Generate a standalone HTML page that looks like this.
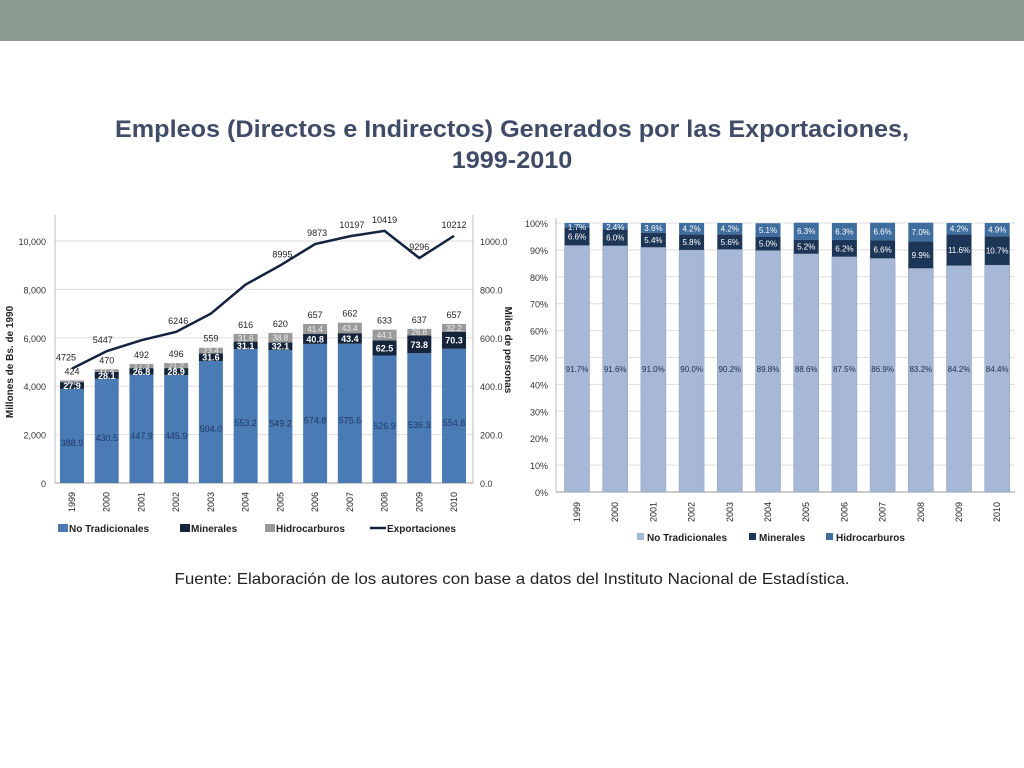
<!DOCTYPE html>
<html><head><meta charset="utf-8">
<style>
body{margin:0;width:1024px;height:768px;background:#fff;font-family:"Liberation Sans",sans-serif;overflow:hidden;position:relative}
#band{position:absolute;left:0;top:0;width:1024px;height:41px;background:#8d9c92}
#title{position:absolute;left:0;width:1024px;top:114px;text-align:center;font-size:24px;font-weight:bold;color:#404b68;line-height:31px;transform:scaleX(1.05)}
#source{position:absolute;left:0;width:1024px;top:571px;text-align:center;font-size:16px;color:#222;transform:scaleX(1.06)}
svg{position:absolute;left:0;top:0}
</style></head><body>
<div id="band"></div>
<div id="title">Empleos (Directos e Indirectos) Generados por las Exportaciones,<br>1999-2010</div>
<svg id="left" width="520" height="560"></svg>
<svg id="right" width="1024" height="560" style="left:0"></svg>
<div id="source">Fuente: Elaboración de los autores con base a datos del Instituto Nacional de Estadística.</div>
<script>
const years=["1999","2000","2001","2002","2003","2004","2005","2006","2007","2008","2009","2010"];
const noTrad=[388.9,430.5,447.9,445.9,504.0,553.2,549.2,574.8,575.6,526.9,536.3,554.8];
const minerales=[27.9,28.1,26.8,28.9,31.6,31.1,32.1,40.8,43.4,62.5,73.8,70.3];
const hidro=[7.2,11.4,17.3,21.2,23.4,31.6,38.8,41.4,43.4,44.1,26.8,32.2];
const totals=[424,470,492,496,559,616,620,657,662,633,637,657];
const export_=[4725,5447,5900,6246,7000,8200,8995,9873,10197,10419,9296,10212];
const exportLabels=["4725","5447","","6246","","","8995","9873","10197","10419","9296","10212"];
const leftTicks=[0,2000,4000,6000,8000,10000];
const leftTickLabels=["0","2,000","4,000","6,000","8,000","10,000"];
const rightTicks=[0,200,400,600,800,1000];
const pctNo=[91.7,91.6,91.0,90.0,90.2,89.8,88.6,87.5,86.9,83.2,84.2,84.4];
const pctMin=[6.6,6.0,5.4,5.8,5.6,5.0,5.2,6.2,6.6,9.9,11.6,10.7];
const pctHid=[1.7,2.4,3.6,4.2,4.2,5.1,6.3,6.3,6.6,7.0,4.2,4.9];
const pctTicks=[0,10,20,30,40,50,60,70,80,90,100];

const NS="http://www.w3.org/2000/svg";
function mk(p,t,a,txt){const e=document.createElementNS(NS,t);for(const k in a)e.setAttribute(k,a[k]);if(txt!==undefined)e.textContent=txt;p.appendChild(e);return e;}

// LEFT
const L=document.getElementById('left');
const ly=v=>483-v*0.0242;
const lyR=v=>483-v*0.242;
const lx=i=>72+i*34.73;
leftTicks.forEach((t,i)=>{
 let g=mk(L,'line',{x1:55,x2:473,y1:ly(t),y2:ly(t),stroke:i==0?'#999':'#ddd','stroke-width':1});
 
 let tx=mk(L,'text',{x:46,y:ly(t)+4,'text-anchor':'end','font-size':9,fill:'#333'},leftTickLabels[i]);
 
});
rightTicks.forEach(t=>{
 let tx=mk(L,'text',{x:480,y:lyR(t)+4,'font-size':9,fill:'#333'},t.toFixed(1));
 
});
mk(L,'line',{x1:55,x2:55,y1:215,y2:483,stroke:'#bbb'});
mk(L,'line',{x1:473,x2:473,y1:215,y2:483,stroke:'#bbb'});
let yt=mk(L,'text',{transform:'translate(13,362) rotate(-90)','text-anchor':'middle','font-size':10,'font-weight':'bold',fill:'#222'},'Millones de Bs. de 1990');

let yt2=mk(L,'text',{transform:'translate(505,350) rotate(90)','text-anchor':'middle','font-size':10,'font-weight':'bold',fill:'#222'},'Miles de personas');

years.forEach((y,i)=>{
 const x=lx(i),w=24;
 const y0=lyR(noTrad[i]),y1=lyR(noTrad[i]+minerales[i]),y2=lyR(noTrad[i]+minerales[i]+hidro[i]);
 let b=mk(L,'rect',{x:x-w/2,y:y0,width:w,height:483-y0,fill:'#4a7bb5'});
 
 b=mk(L,'rect',{x:x-w/2,y:y1,width:w,height:y0-y1,fill:'#14243a'});
 
 b=mk(L,'rect',{x:x-w/2,y:y2,width:w,height:y1-y2,fill:'#9a9a9a'});
 
 mk(L,'text',{x:x,y:(483+y0)/2+10,'text-anchor':'middle','font-size':9,fill:'#1e3a66'},noTrad[i].toFixed(1));
 mk(L,'text',{x:x,y:(y0+y1)/2+3.5,'text-anchor':'middle','font-size':9,'font-weight':'bold',fill:'#fff'},minerales[i].toFixed(1));
 mk(L,'text',{x:x,y:(y1+y2)/2+3,'text-anchor':'middle','font-size':8,fill:'#eee'},hidro[i].toFixed(1));
 mk(L,'text',{x:x,y:y2-6,'text-anchor':'middle','font-size':9,fill:'#222'},String(totals[i]));
 let xl=mk(L,'text',{transform:`translate(${x+3},512) rotate(-90)`,'font-size':9,fill:'#222'},y);
 
});
let pts=export_.map((v,i)=>lx(i)+','+ly(v)).join(' ');
let pl=mk(L,'polyline',{points:pts,fill:'none',stroke:'#13233f','stroke-width':2.5});

export_.forEach((v,i)=>{if(exportLabels[i])mk(L,'text',{x:lx(i)-(i==0?6:i<9?-2:0)+(i==1?-6:0),y:ly(v)-8,'text-anchor':'middle','font-size':9,fill:'#222'},exportLabels[i]);});
[['#4a7bb5','No Tradicionales',58],['#14243a','Minerales',180],['#9a9a9a','Hidrocarburos',265]].forEach(l=>{
 let r=mk(L,'rect',{x:l[2],y:524,width:10,height:8,fill:l[0]});
 
 let t=mk(L,'text',{x:l[2]+11,y:532,'font-size':10,'font-weight':'bold',fill:'#222'},l[1]);
 
});
mk(L,'line',{x1:370,x2:386,y1:528,y2:528,stroke:'#13233f','stroke-width':2.5});
let le=mk(L,'text',{x:387,y:532,'font-size':10,'font-weight':'bold',fill:'#222'},'Exportaciones');


// RIGHT
const R=document.getElementById('right');
const ry=v=>492-v*2.69;
const rx=i=>577+i*38.2;
pctTicks.forEach(t=>{
 let g=mk(R,'line',{x1:556,x2:1015,y1:ry(t),y2:ry(t),stroke:t==0?'#999':'#ddd'});
 
 let tx=mk(R,'text',{x:548,y:ry(t)+4,'text-anchor':'end','font-size':9,fill:'#333'},t+'%');
 
});
mk(R,'line',{x1:556,x2:556,y1:218,y2:492,stroke:'#bbb'});
years.forEach((y,i)=>{
 const x=rx(i),w=25;
 const a=ry(pctNo[i]),b=ry(pctNo[i]+pctMin[i]),c=ry(pctNo[i]+pctMin[i]+pctHid[i]);
 let r=mk(R,'rect',{x:x-w/2,y:a,width:w,height:492-a,fill:'#a6b8d6',stroke:'#8a9cbb','stroke-width':0.5});
 
 r=mk(R,'rect',{x:x-w/2,y:b,width:w,height:a-b,fill:'#1d3657'});
 
 r=mk(R,'rect',{x:x-w/2,y:c,width:w,height:b-c,fill:'#3f6d9e'});
 
 mk(R,'text',{x:x,y:372,'text-anchor':'middle','font-size':8,fill:'#1e2e4a'},pctNo[i].toFixed(1)+'%');
 mk(R,'text',{x:x,y:(a+b)/2+3,'text-anchor':'middle','font-size':8,fill:'#fff'},pctMin[i].toFixed(1)+'%');
 mk(R,'text',{x:x,y:Math.max((b+c)/2+3,230),'text-anchor':'middle','font-size':8,fill:'#fff'},pctHid[i].toFixed(1)+'%');
 let xl=mk(R,'text',{transform:`translate(${x+3},522) rotate(-90)`,'font-size':9,fill:'#222'},y);
 
});
[['#a6b8d6','No Tradicionales',637],['#1d3657','Minerales',749],['#3f6d9e','Hidrocarburos',826]].forEach(l=>{
 let r=mk(R,'rect',{x:l[2],y:533,width:7,height:7,fill:l[0]});
 
 let t=mk(R,'text',{x:l[2]+10,y:541,'font-size':10,'font-weight':'bold',fill:'#222'},l[1]);
 
});
</script>
</body></html>
